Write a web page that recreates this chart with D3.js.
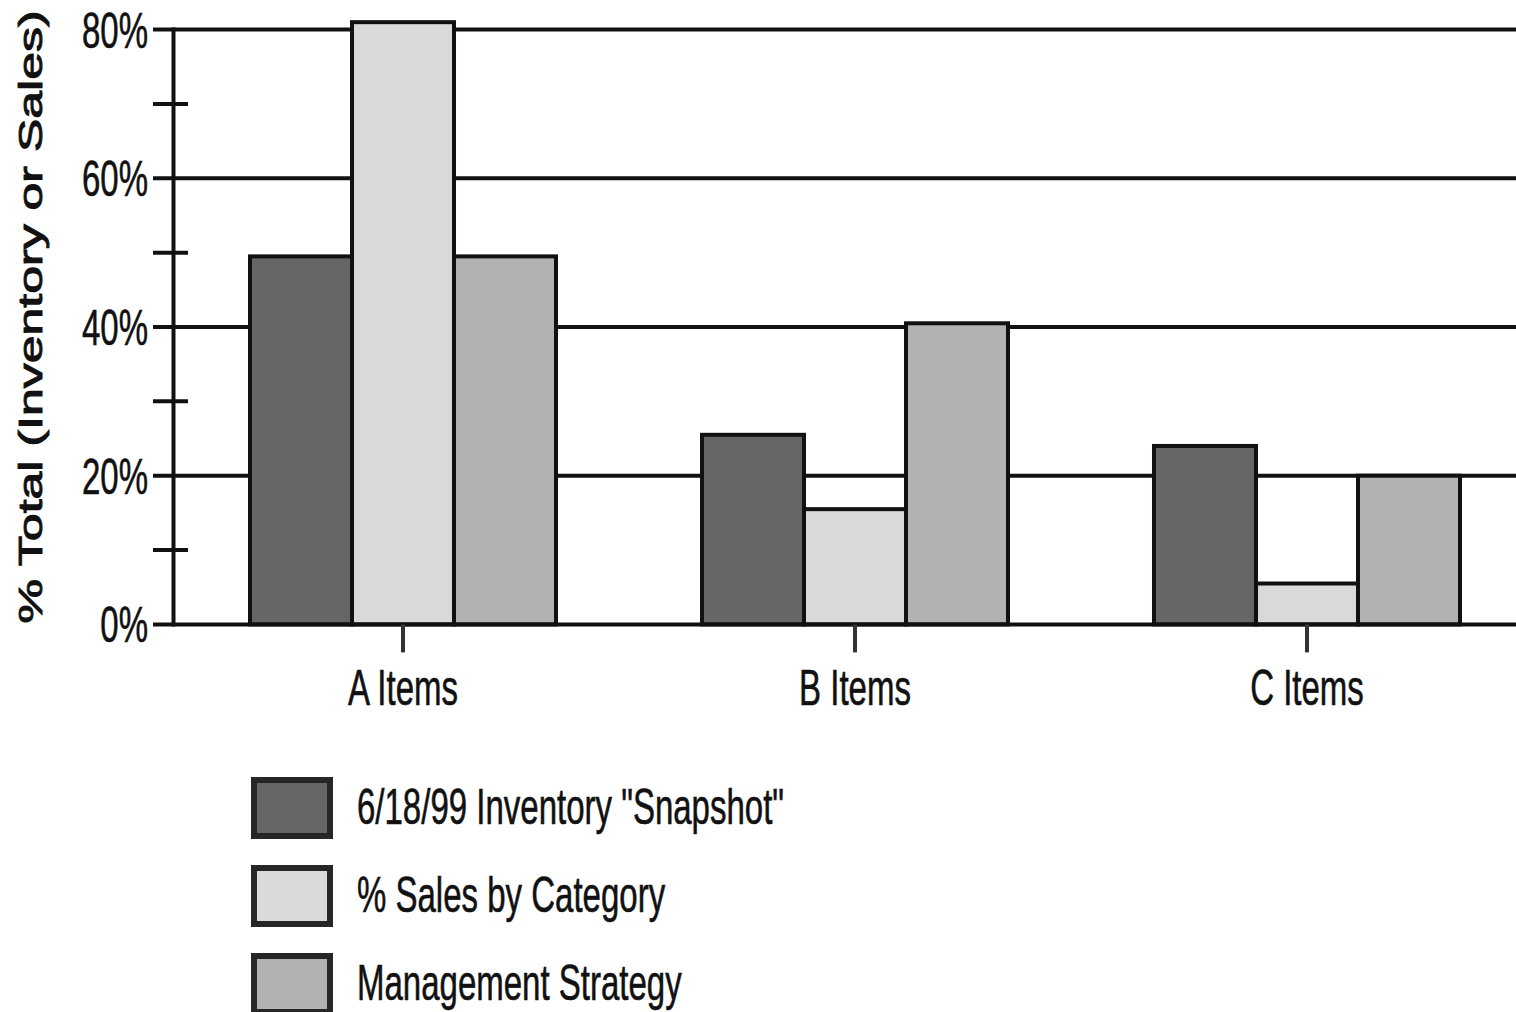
<!DOCTYPE html>
<html>
<head>
<meta charset="utf-8">
<script src="https://cdn.jsdelivr.net/npm/d3@7"></script>
<style>
  html, body { margin: 0; padding: 0; background: #ffffff; }
  svg { display: block; }
  text { font-family: "Liberation Sans", Arial, sans-serif; fill: #111; }
</style>
</head>
<body>
<script>
// ABC inventory analysis: share of inventory vs. sales vs. target strategy
const categories = ["A Items", "B Items", "C Items"];
const seriesNames = ['6/18/99 Inventory "Snapshot"', "% Sales by Category", "Management Strategy"];
const inventorySnapshot = [49.5, 25.5, 24];
const salesByCategory = [81, 15.5, 5.5];
const managementStrategy = [49.5, 40.5, 20];
const seriesColors = ["#666666", "#d9d9d9", "#b2b2b2"];
const majorTicks = [0, 20, 40, 60, 80];
const minorTicks = [10, 30, 50, 70];
const yTitle = "% Total (Inventory or Sales)";

const W = 1516, H = 1012;
const axisX = 173.5;       // left axis line
const gridLeft = 153;      // major lines start a little left of the axis
const plotRight = 1516;
const squeeze = 0.66;      // narrow type
const fontSize = 50;
const ink = "#111";

const svg = d3.select("body").append("svg")
  .attr("width", W).attr("height", H);

const y = d3.scaleLinear().domain([0, 80]).range([624.4, 29.6]);

const x = d3.scaleBand().domain(categories)
  .range([170, 1540]).paddingInner(0.323).paddingOuter(0.177);

const xs = d3.scaleBand().domain(d3.range(seriesNames.length))
  .range([0, x.bandwidth()]).padding(0);

const series = [inventorySnapshot, salesByCategory, managementStrategy];
const barData = [];
categories.forEach((c, i) => {
  series.forEach((vals, s) => barData.push({ cat: c, s, v: vals[i] }));
});

// gridlines at the labelled values
svg.append("g").selectAll("line").data(majorTicks.filter(d => d > 0)).join("line")
  .attr("x1", gridLeft).attr("x2", plotRight)
  .attr("y1", d => y(d)).attr("y2", d => y(d))
  .attr("stroke", ink).attr("stroke-width", 4);

// minor ticks crossing the axis
svg.append("g").selectAll("line").data(minorTicks).join("line")
  .attr("x1", gridLeft).attr("x2", 188)
  .attr("y1", d => y(d)).attr("y2", d => y(d))
  .attr("stroke", ink).attr("stroke-width", 4);

// vertical axis
svg.append("line")
  .attr("x1", axisX).attr("x2", axisX)
  .attr("y1", y(80) - 2).attr("y2", y(0) + 2)
  .attr("stroke", ink).attr("stroke-width", 4);

// bars
svg.append("g").selectAll("rect").data(barData).join("rect")
  .attr("x", d => x(d.cat) + xs(d.s))
  .attr("width", xs.bandwidth())
  .attr("y", d => y(d.v))
  .attr("height", d => y(0) - y(d.v))
  .attr("fill", d => seriesColors[d.s])
  .attr("stroke", ink).attr("stroke-width", 4);

// baseline
svg.append("line")
  .attr("x1", gridLeft).attr("x2", plotRight)
  .attr("y1", y(0)).attr("y2", y(0))
  .attr("stroke", ink).attr("stroke-width", 4);

// category ticks
svg.append("g").selectAll("line").data(categories).join("line")
  .attr("x1", d => x(d) + x.bandwidth() / 2).attr("x2", d => x(d) + x.bandwidth() / 2)
  .attr("y1", y(0)).attr("y2", y(0) + 28)
  .attr("stroke", "#333").attr("stroke-width", 4);

// y tick labels
svg.append("g").selectAll("text").data(majorTicks).join("text")
  .attr("transform", d => `translate(148,${y(d) + 18}) scale(${squeeze},1)`)
  .attr("text-anchor", "end")
  .attr("font-size", fontSize)
  .attr("stroke", "#111").attr("stroke-width", 0.6)
  .text(d => d + "%");

// category labels
svg.append("g").selectAll("text").data(categories).join("text")
  .attr("transform", d => `translate(${x(d) + x.bandwidth() / 2},705) scale(${squeeze},1)`)
  .attr("text-anchor", "middle")
  .attr("font-size", fontSize)
  .attr("stroke", "#111").attr("stroke-width", 0.6)
  .text(d => d);

// y axis title
svg.append("text")
  .attr("transform", `translate(42,317) scale(${squeeze},1) rotate(-90)`)
  .attr("text-anchor", "middle")
  .attr("font-size", fontSize)
  .attr("stroke", "#111").attr("stroke-width", 1.4)
  .text(yTitle);

// legend
const legend = svg.append("g").selectAll("g").data(seriesNames).join("g")
  .attr("transform", (d, i) => `translate(0,${808 + i * 88})`);
legend.append("rect")
  .attr("x", 254).attr("y", -28).attr("width", 76).attr("height", 56)
  .attr("fill", (d, i) => seriesColors[i])
  .attr("stroke", "#262626").attr("stroke-width", 6);
legend.append("text")
  .attr("transform", `translate(357,16) scale(${squeeze},1)`)
  .attr("font-size", fontSize)
  .attr("stroke", "#111").attr("stroke-width", 0.6)
  .text(d => d);
</script>
</body>
</html>
